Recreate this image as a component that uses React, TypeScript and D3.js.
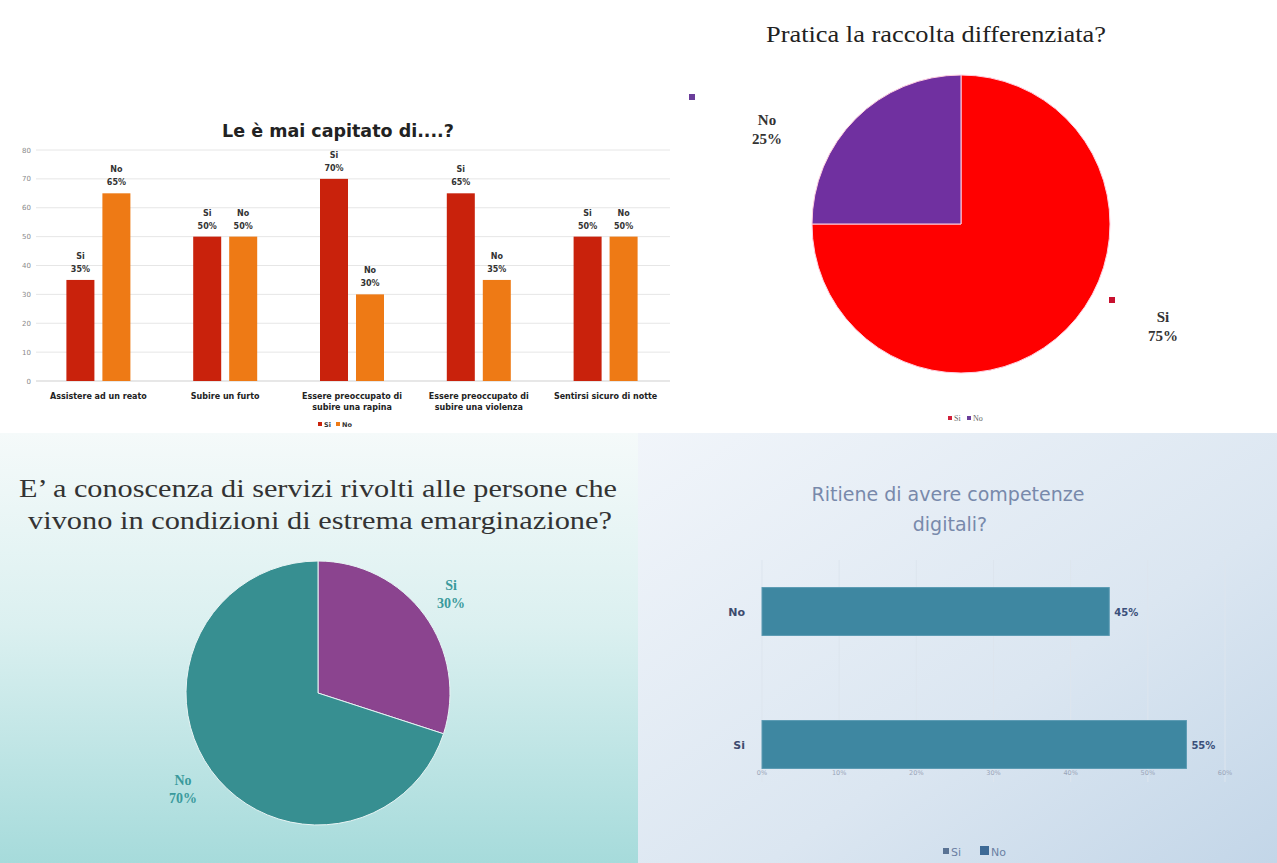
import React from 'react';
import * as d3 from 'd3';

const W = 1277;
const H = 863;

// ---- Chart 1: Le è mai capitato di....?
const crimeCategories = [
  'Assistere ad un reato',
  'Subire un furto',
  'Essere preoccupato di\nsubire una rapina',
  'Essere preoccupato di\nsubire una violenza',
  'Sentirsi sicuro di notte',
];
const crimeSeries = ['Si', 'No'];
const crimeSi = [35, 50, 70, 65, 50];
const crimeNo = [65, 50, 30, 35, 50];
const crimeTicks = [0, 10, 20, 30, 40, 50, 60, 70, 80];

// ---- Chart 2: Pratica la raccolta differenziata?
const raccoltaLabels = ['Si', 'No'];
const raccoltaValues = [75, 25];

// ---- Chart 3: servizi emarginazione
const serviziLabels = ['Si', 'No'];
const serviziValues = [30, 70];

// ---- Chart 4: competenze digitali
const digitaliCategories = ['No', 'Si'];
const digitaliValues = [45, 55];
const digitaliTicks = [0, 10, 20, 30, 40, 50, 60];

const GOTHIC = '"DejaVu Sans", Verdana, sans-serif';
const SERIF = '"Liberation Serif", "DejaVu Serif", serif';

function CrimeChart() {
  const x0 = d3.scaleBand<string>().domain(crimeCategories).range([35, 669]);
  const inner = 64;
  const x1 = d3.scaleBand<string>().domain(crimeSeries).range([0, inner]).paddingInner(0.222);
  const y = d3.scaleLinear().domain([0, 80]).range([381, 150]);
  const colors: Record<string, string> = { Si: '#c9220c', No: '#ee7a15' };
  const vals: Record<string, number[]> = { Si: crimeSi, No: crimeNo };
  return (
    <g>
      <text x={338} y={137} textAnchor="middle" fontFamily={GOTHIC} fontWeight="bold" fontSize={17.5} fill="#222">
        Le è mai capitato di....?
      </text>
      {crimeTicks.map((t) => (
        <g key={t}>
          <line x1={36} x2={670} y1={y(t)} y2={y(t)} stroke={t === 0 ? '#cfcfcf' : '#e6e6e6'} strokeWidth={1} />
          <text x={31} y={y(t) + 2.5} textAnchor="end" fontFamily={GOTHIC} fontSize={7} fill="#8a8a8a">
            {t}
          </text>
        </g>
      ))}
      {crimeCategories.map((c, i) => {
        const gx = (x0(c) as number) + (x0.bandwidth() - inner) / 2;
        return (
          <g key={c}>
            {crimeSeries.map((s) => {
              const v = vals[s][i];
              const bx = gx + (x1(s) as number);
              const bw = x1.bandwidth();
              return (
                <g key={s}>
                  <rect x={bx} y={y(v)} width={bw} height={y(0) - y(v)} fill={colors[s]} />
                  <text x={bx + bw / 2} y={y(v) - 21} textAnchor="middle" fontFamily={GOTHIC} fontWeight="bold" fontSize={8} fill="#333">
                    {s}
                  </text>
                  <text x={bx + bw / 2} y={y(v) - 8} textAnchor="middle" fontFamily={GOTHIC} fontWeight="bold" fontSize={8} fill="#333">
                    {v}%
                  </text>
                </g>
              );
            })}
            {c.split('\n').map((line, k) => (
              <text key={k} x={(x0(c) as number) + x0.bandwidth() / 2} y={399 + k * 11} textAnchor="middle" fontFamily={GOTHIC} fontWeight="bold" fontSize={8} fill="#222">
                {line}
              </text>
            ))}
          </g>
        );
      })}
      <g fontFamily={GOTHIC} fontSize={6.5} fontWeight="bold" fill="#333">
        <rect x={318} y={422} width={4} height={4} fill={colors.Si} />
        <text x={324} y={427}>Si</text>
        <rect x={336} y={422} width={4} height={4} fill={colors.No} />
        <text x={342} y={427}>No</text>
      </g>
    </g>
  );
}

function RaccoltaPie() {
  const cx = 961, cy = 224, r = 149;
  const colors = ['#ff0000', '#7030a0'];
  const arcs = d3.pie<number>().sort(null).value((d) => d)(raccoltaValues);
  const arc = d3.arc<d3.PieArcDatum<number>>().innerRadius(0).outerRadius(r);
  const labelPos = [
    { x: 1163, y: 322, mx: 1112, my: 300 },
    { x: 767, y: 125, mx: 692, my: 97 },
  ];
  return (
    <g>
      <text x={936} y={42} textAnchor="middle" fontFamily={SERIF} fontSize={24} fill="#222" textLength={340} lengthAdjust="spacingAndGlyphs">
        Pratica la raccolta differenziata?
      </text>
      <g transform={`translate(${cx},${cy})`}>
        {arcs.map((a, i) => (
          <path key={i} d={arc(a) as string} fill={colors[i]} stroke="#ffd0e0" strokeWidth={1} />
        ))}
      </g>
      {raccoltaLabels.map((l, i) => (
        <g key={l}>
          <rect x={labelPos[i].mx - 3} y={labelPos[i].my - 3} width={6} height={6} fill={i === 0 ? '#c8102e' : '#6a3d9a'} />
          <text x={labelPos[i].x} y={labelPos[i].y} textAnchor="middle" fontFamily={SERIF} fontWeight="bold" fontSize={15} fill="#333">
            {l}
          </text>
          <text x={labelPos[i].x} y={labelPos[i].y + 19} textAnchor="middle" fontFamily={SERIF} fontWeight="bold" fontSize={15} fill="#333">
            {raccoltaValues[i]}%
          </text>
        </g>
      ))}
      <g fontFamily={SERIF} fontSize={8} fill="#666">
        <rect x={948} y={416} width={4} height={4} fill="#d0203a" />
        <text x={954} y={421}>Si</text>
        <rect x={967} y={416} width={4} height={4} fill="#6a3d9a" />
        <text x={973} y={421}>No</text>
      </g>
    </g>
  );
}

function ServiziPie() {
  const cx = 318, cy = 693, r = 132;
  const colors = ['#8b448f', '#378f91'];
  const arcs = d3.pie<number>().sort(null).value((d) => d)(serviziValues);
  const arc = d3.arc<d3.PieArcDatum<number>>().innerRadius(0).outerRadius(r);
  const labelPos = [
    { x: 451, y: 590 },
    { x: 183, y: 785 },
  ];
  return (
    <g>
      <text x={318} y={497} textAnchor="middle" fontFamily={SERIF} fontSize={26} fill="#333" textLength={598} lengthAdjust="spacingAndGlyphs">
        E’ a conoscenza di servizi rivolti alle persone che
      </text>
      <text x={320} y={529} textAnchor="middle" fontFamily={SERIF} fontSize={26} fill="#333" textLength={584} lengthAdjust="spacingAndGlyphs">
        vivono in condizioni di estrema emarginazione?
      </text>
      <g transform={`translate(${cx},${cy})`}>
        {arcs.map((a, i) => (
          <path key={i} d={arc(a) as string} fill={colors[i]} stroke="#e8f4f4" strokeWidth={1} />
        ))}
      </g>
      {serviziLabels.map((l, i) => (
        <g key={l}>
          <text x={labelPos[i].x} y={labelPos[i].y} textAnchor="middle" fontFamily={SERIF} fontWeight="bold" fontSize={14} fill="#3a9a9c">
            {l}
          </text>
          <text x={labelPos[i].x} y={labelPos[i].y + 18} textAnchor="middle" fontFamily={SERIF} fontWeight="bold" fontSize={14} fill="#3a9a9c">
            {serviziValues[i]}%
          </text>
        </g>
      ))}
    </g>
  );
}

function DigitaliChart() {
  const x = d3.scaleLinear().domain([0, 60]).range([762, 1225]);
  const y = d3.scaleBand<string>().domain(digitaliCategories).range([545, 811]).paddingInner(0.64).paddingOuter(0.32);
  return (
    <g>
      <text x={948} y={501} textAnchor="middle" fontFamily={GOTHIC} fontSize={19} fill="#7889ab">
        Ritiene di avere competenze
      </text>
      <text x={950} y={531} textAnchor="middle" fontFamily={GOTHIC} fontSize={19} fill="#7889ab">
        digitali?
      </text>
      {digitaliTicks.map((t) => (
        <g key={t}>
          <line x1={x(t)} x2={x(t)} y1={560} y2={782} stroke="#dde5ee" strokeWidth={1} />
          <text x={x(t)} y={775} textAnchor="middle" fontFamily={GOTHIC} fontSize={6.5} fill="#9aa5b8">
            {t}%
          </text>
        </g>
      ))}
      {digitaliCategories.map((c, i) => {
        const v = digitaliValues[i];
        const by = y(c) as number;
        return (
          <g key={c}>
            <rect x={x(0)} y={by} width={x(v) - x(0)} height={y.bandwidth()} fill="#3e87a1" stroke="#5a9ab2" strokeWidth={1} />
            <text x={x(v) + 5} y={by + y.bandwidth() / 2 + 4} fontFamily={GOTHIC} fontWeight="bold" fontSize={10} fill="#3a4f7a">
              {v}%
            </text>
            <text x={745} y={by + y.bandwidth() / 2 + 4} textAnchor="end" fontFamily={GOTHIC} fontWeight="bold" fontSize={11} fill="#3d4b6e">
              {c}
            </text>
          </g>
        );
      })}
      <g fontFamily={GOTHIC} fontSize={11} fill="#6c7fa3">
        <rect x={943} y={848} width={6} height={6} fill="#5a7394" />
        <text x={951} y={856}>Si</text>
        <rect x={980} y={846} width={9} height={9} fill="#3d6a96" />
        <text x={991} y={856}>No</text>
      </g>
    </g>
  );
}

export default function App() {
  return (
    <svg width={W} height={H} style={{ position: 'absolute', left: 0, top: 0, display: 'block' }}>
      <defs>
        <linearGradient id="bgTeal" x1="0" y1="0" x2="0" y2="1">
          <stop offset="0" stopColor="#f5fafa" />
          <stop offset="0.45" stopColor="#dbf0f0" />
          <stop offset="1" stopColor="#a6dbdb" />
        </linearGradient>
        <linearGradient id="bgBlue" x1="0" y1="0" x2="1" y2="1">
          <stop offset="0" stopColor="#f1f5fa" />
          <stop offset="0.6" stopColor="#dbe6f1" />
          <stop offset="1" stopColor="#c3d6e8" />
        </linearGradient>
      </defs>
      <rect x={0} y={0} width={W} height={H} fill="#ffffff" />
      <rect x={0} y={433} width={638} height={430} fill="url(#bgTeal)" />
      <rect x={638} y={433} width={639} height={430} fill="url(#bgBlue)" />
      <CrimeChart />
      <RaccoltaPie />
      <ServiziPie />
      <DigitaliChart />
    </svg>
  );
}
